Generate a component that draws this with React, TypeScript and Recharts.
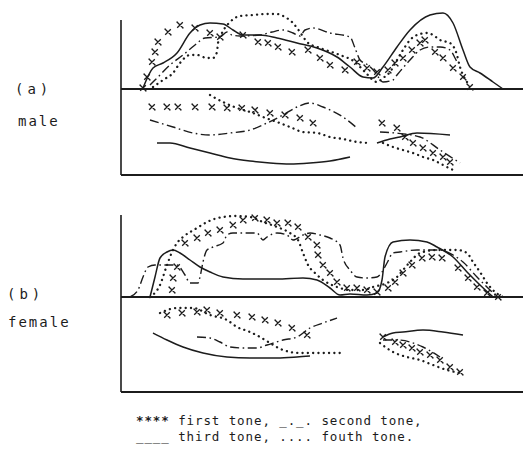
import React from 'react';
import { LineChart, Line, XAxis, YAxis, ReferenceLine } from 'recharts';

type P = [number, number];

// ---- (a) male : upper panel = intensity, lower panel = pitch (arbitrary units) ----
const maleIntensityFirst: P[] = [[22,87],[26,98],[31,113],[34,123],[37,133],[47,143],[59,150],[74,147],[89,142],[99,138],[122,140],[137,133],[147,132],[157,128],[171,123],[187,125],[199,117],[209,110],[224,105],[236,113],[246,107],[256,103],[267,105],[274,112],[282,117],[291,125],[299,132],[304,135],[314,123],[322,117],[332,107],[342,98],[349,88]];
const maleIntensitySecond: P[] = [[29,90],[39,100],[49,110],[62,120],[74,130],[84,137],[99,138],[106,143],[111,140],[119,139],[139,140],[151,143],[162,145],[172,142],[179,139],[184,145],[192,147],[209,142],[229,138],[234,127],[239,115],[247,110],[254,103],[262,93],[272,95],[276,100],[289,115],[299,125],[309,128],[319,128],[329,125],[334,117],[336,113]];
const maleIntensityThird: P[] = [[22,87],[32,107],[42,112],[56,122],[69,142],[79,150],[89,152],[102,151],[112,145],[122,140],[139,140],[156,137],[176,132],[196,127],[216,118],[229,108],[242,98],[252,97],[262,108],[276,128],[289,145],[309,160],[322,162],[332,152],[342,125],[349,108],[359,102],[372,93],[382,86]];
const maleIntensityFourth: P[] = [[32,88],[42,95],[52,102],[59,112],[69,120],[76,120],[86,117],[92,117],[96,123],[97,132],[101,142],[109,153],[119,159],[132,160],[146,161],[156,161],[164,158],[171,153],[176,147],[181,140],[186,133],[199,127],[219,120],[234,113],[244,103],[256,93],[262,97],[269,103],[276,115],[282,125],[289,135],[296,140],[306,142],[312,140],[319,135],[329,132],[336,120],[339,108],[342,100],[346,93]];

const malePitchFirstA: P[] = [[31,68],[46,68],[57,68],[74,68],[91,68],[106,67],[121,67],[134,65],[149,62],[164,60],[179,57],[192,52]];
const malePitchFirstB: P[] = [[261,52],[276,47],[284,38],[292,32],[302,27],[312,22],[322,18],[329,13]];
const malePitchSecondA: P[] = [[29,55],[52,48],[72,42],[89,40],[109,42],[129,45],[146,52],[162,60],[176,68],[189,72],[202,68],[222,58],[236,47]];
const malePitchSecondB: P[] = [[259,43],[274,42],[299,38],[319,25],[339,12]];
const malePitchThirdA: P[] = [[36,32],[49,32],[69,27],[89,22],[109,17],[129,14],[149,12],[169,11],[189,12],[209,14],[229,18]];
const malePitchThirdB: P[] = [[256,32],[269,36],[279,38],[296,42],[329,40]];
const malePitchFourthA: P[] = [[89,80],[104,72],[116,67],[132,62],[142,58],[156,53],[169,48],[182,43],[196,42],[209,38],[222,36],[236,33],[249,32]];
const malePitchFourthB: P[] = [[262,32],[272,28],[282,25],[292,22],[302,18],[312,15],[322,10],[332,5]];

// ---- (b) female ----
const femaleIntensityFirst: P[] = [[51,102],[52,114],[56,125],[64,149],[76,154],[87,159],[99,162],[112,167],[122,172],[134,174],[146,172],[156,169],[167,169],[177,165],[187,155],[196,147],[197,137],[202,127],[209,119],[216,110],[226,104],[236,104],[246,102],[256,100],[267,104],[274,110],[282,119],[291,127],[301,134],[311,135],[321,134],[337,124],[347,114],[356,105],[366,99],[377,95]];
const femaleIntensitySecond: P[] = [[9,95],[17,102],[22,115],[27,125],[34,127],[42,127],[56,127],[64,117],[69,109],[77,109],[79,115],[82,130],[86,142],[92,145],[102,149],[106,157],[112,159],[122,159],[136,159],[142,152],[146,155],[156,159],[166,157],[172,152],[182,157],[189,159],[199,157],[209,154],[219,147],[222,134],[229,122],[236,115],[246,114],[256,115],[261,120],[266,129],[272,139],[279,140],[296,142],[319,142],[332,137],[342,130],[356,115],[369,102],[376,95]];
const femaleIntensityThird: P[] = [[29,95],[34,115],[39,134],[46,140],[52,142],[59,139],[69,132],[79,125],[89,120],[102,115],[122,113],[156,113],[182,114],[196,112],[209,104],[219,97],[229,98],[246,97],[256,99],[261,112],[264,135],[272,150],[289,152],[306,150],[316,145],[332,135],[346,120],[359,107],[372,95]];
const femaleIntensityFourth: P[] = [[29,95],[39,107],[46,127],[52,142],[56,149],[62,155],[76,164],[86,170],[102,175],[116,176],[129,175],[142,170],[156,165],[169,159],[177,152],[182,139],[187,127],[194,119],[202,112],[216,105],[229,102],[242,102],[252,105],[266,109],[276,115],[282,122],[289,130],[299,139],[316,142],[336,142],[346,139],[352,130],[359,120],[366,109],[374,100],[382,95]];

const femalePitchFirstA: P[] = [[46,77],[61,79],[76,80],[86,82],[99,79],[116,77],[131,75],[144,72],[157,69],[171,64],[186,57]];
const femalePitchFirstB: P[] = [[262,55],[274,50],[282,47],[291,44],[299,40],[309,37],[319,32],[329,25],[339,20]];
const femalePitchSecondA: P[] = [[76,55],[89,54],[99,50],[109,45],[122,44],[136,44],[146,47],[162,52],[176,55],[189,64],[202,69],[216,74]];
const femalePitchSecondB: P[] = [[262,52],[276,52],[302,45],[319,35]];
const femalePitchThirdA: P[] = [[32,59],[46,52],[62,45],[82,39],[106,35],[129,34],[156,34],[176,35],[189,36]];
const femalePitchThirdB: P[] = [[262,55],[272,59],[282,60],[302,62],[322,60],[342,57]];
const femalePitchFourthA: P[] = [[39,79],[56,84],[72,84],[89,77],[106,72],[116,65],[129,60],[139,55],[149,49],[162,42],[179,39],[196,39],[209,39],[222,39]];
const femalePitchFourthB: P[] = [[259,49],[272,40],[286,35],[299,32],[312,27],[326,22],[339,19]];

const legendLine1 = ['****', ' first tone, ', '_._.', ' second tone,'];
const legendLine2 = ['____', ' third tone, ', '....', ' fouth tone.'];

const INK = '#1c1c1c';
const FONT = '"DejaVu Sans Mono", "Liberation Mono", monospace';

type Tone = 'first' | 'second' | 'third' | 'fourth';

const XMark = (props: any) => {
  const { cx, cy, index } = props;
  if (cx == null || cy == null) return <g key={index} />;
  const s = 2.8;
  return (
    <path
      key={index}
      d={`M${cx - s},${cy - s}L${cx + s},${cy + s}M${cx + s},${cy - s}L${cx - s},${cy + s}M${cx - s - 0.8},${cy - s}h1.6M${cx + s - 0.8},${cy + s}h1.6`}
      stroke={INK}
      strokeWidth={1.3}
      fill="none"
    />
  );
};

const toRows = (pts: P[]) => pts.map(([t, v]) => ({ t, v }));

function renderSeries(name: string, pts: P[], tone: Tone) {
  const common = {
    key: name,
    data: toRows(pts),
    dataKey: 'v',
    type: 'monotone' as const,
    isAnimationActive: false,
    activeDot: false as const,
    legendType: 'none' as const,
  };
  if (tone === 'first') {
    return <Line {...common} stroke="none" dot={(p: any) => <XMark {...p} key={p.index} />} />;
  }
  if (tone === 'second') {
    return <Line {...common} stroke={INK} strokeWidth={1.4} strokeDasharray="9 3.5 1.6 3.5" dot={false} />;
  }
  if (tone === 'third') {
    return <Line {...common} stroke={INK} strokeWidth={1.5} dot={false} />;
  }
  return <Line {...common} stroke={INK} strokeWidth={2.3} strokeDasharray="0.1 5.2" strokeLinecap="round" dot={false} />;
}

type Spec = { name: string; pts: P[]; tone: Tone };

function Figure(props: { top: number; yMax: number; baseline: number; axisTop: number; series: Spec[] }) {
  const { top, yMax, baseline, axisTop, series } = props;
  const m = 5;
  return (
    <div style={{ position: 'absolute', left: 121 - m, top: top - m }}>
      <LineChart width={402 + 2 * m} height={yMax + 2 * m} margin={{ top: m, right: m, bottom: m, left: m }}>
        <XAxis type="number" dataKey="t" domain={[0, 402]} hide allowDataOverflow />
        <YAxis type="number" domain={[0, yMax]} hide allowDataOverflow />
        <ReferenceLine segment={[{ x: 0, y: 0 }, { x: 0, y: axisTop }]} stroke={INK} strokeWidth={1.6} />
        <ReferenceLine y={0} stroke={INK} strokeWidth={1.8} />
        <ReferenceLine y={baseline} stroke={INK} strokeWidth={1.8} />
        {series.map((s) => renderSeries(s.name, s.pts, s.tone))}
      </LineChart>
    </div>
  );
}

const maleSeries: Spec[] = [
  { name: 'mi1', pts: maleIntensityFirst, tone: 'first' },
  { name: 'mi2', pts: maleIntensitySecond, tone: 'second' },
  { name: 'mi3', pts: maleIntensityThird, tone: 'third' },
  { name: 'mi4', pts: maleIntensityFourth, tone: 'fourth' },
  { name: 'mp1a', pts: malePitchFirstA, tone: 'first' },
  { name: 'mp1b', pts: malePitchFirstB, tone: 'first' },
  { name: 'mp2a', pts: malePitchSecondA, tone: 'second' },
  { name: 'mp2b', pts: malePitchSecondB, tone: 'second' },
  { name: 'mp3a', pts: malePitchThirdA, tone: 'third' },
  { name: 'mp3b', pts: malePitchThirdB, tone: 'third' },
  { name: 'mp4a', pts: malePitchFourthA, tone: 'fourth' },
  { name: 'mp4b', pts: malePitchFourthB, tone: 'fourth' },
];

const femaleSeries: Spec[] = [
  { name: 'fi1', pts: femaleIntensityFirst, tone: 'first' },
  { name: 'fi2', pts: femaleIntensitySecond, tone: 'second' },
  { name: 'fi3', pts: femaleIntensityThird, tone: 'third' },
  { name: 'fi4', pts: femaleIntensityFourth, tone: 'fourth' },
  { name: 'fp1a', pts: femalePitchFirstA, tone: 'first' },
  { name: 'fp1b', pts: femalePitchFirstB, tone: 'first' },
  { name: 'fp2a', pts: femalePitchSecondA, tone: 'second' },
  { name: 'fp2b', pts: femalePitchSecondB, tone: 'second' },
  { name: 'fp3a', pts: femalePitchThirdA, tone: 'third' },
  { name: 'fp3b', pts: femalePitchThirdB, tone: 'third' },
  { name: 'fp4a', pts: femalePitchFourthA, tone: 'fourth' },
  { name: 'fp4b', pts: femalePitchFourthB, tone: 'fourth' },
];

const labelStyle = (left: number, cy: number, spacing = 1.5): React.CSSProperties => ({
  position: 'absolute',
  left,
  top: cy - 9,
  height: 18,
  lineHeight: '18px',
  fontFamily: FONT,
  fontSize: 14,
  letterSpacing: spacing,
  color: INK,
  whiteSpace: 'pre',
});

export default function App() {
  return (
    <div style={{ position: 'absolute', left: 0, top: 0, width: 524, height: 465, background: '#fff', overflow: 'hidden' }}>
      <Figure top={10} yMax={165} baseline={86} axisTop={155} series={maleSeries} />
      <Figure top={210} yMax={182} baseline={95} axisTop={177} series={femaleSeries} />
      <div style={labelStyle(15, 89, 4)}>(a)</div>
      <div style={labelStyle(18, 121, 2)}>male</div>
      <div style={labelStyle(7, 294, 4)}>(b)</div>
      <div style={labelStyle(8, 322, 2)}>female</div>
      <div style={{ ...labelStyle(136, 421), fontSize: 12.5, letterSpacing: 0.9 }}>
        <b>{legendLine1[0]}</b>{legendLine1[1]}{legendLine1[2]}{legendLine1[3]}
      </div>
      <div style={{ ...labelStyle(136, 437), fontSize: 12.5, letterSpacing: 0.9 }}>
        {legendLine2[0]}{legendLine2[1]}{legendLine2[2]}{legendLine2[3]}
      </div>
    </div>
  );
}
